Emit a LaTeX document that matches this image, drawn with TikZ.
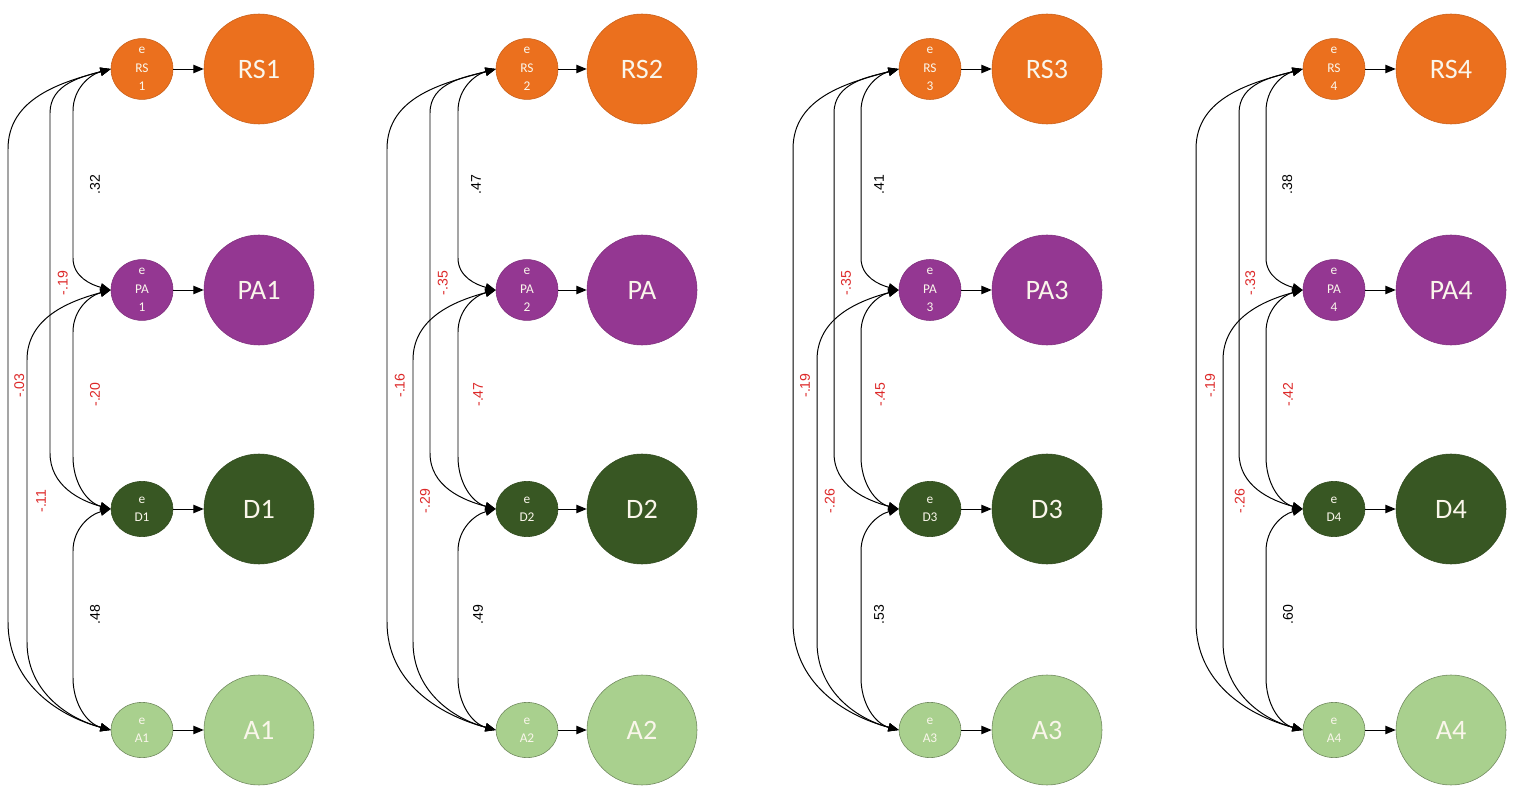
\documentclass[tikz,border=0pt]{standalone}
\usepackage{fontspec}
\setmainfont{Carlito}
\newfontfamily\numfont{Liberation Sans}
\usepackage{tikz}
\usetikzlibrary{arrows.meta,shapes.geometric,calc}
\definecolor{rsorange}{RGB}{235,112,30}
\definecolor{papurple}{RGB}{148,55,146}
\definecolor{ddgreen}{RGB}{56,87,35}
\definecolor{algreen}{RGB}{169,208,142}
\definecolor{covred}{RGB}{220,40,40}
\definecolor{ntext}{RGB}{250,246,235}

\begin{document}
\begin{tikzpicture}[
    >={Triangle[length=0.26cm,width=0.21cm]},
    errnode/.style={ellipse, minimum width=1.55cm, minimum height=1.38cm, inner sep=0pt,
                    align=center, text=ntext, font=\fontsize{9.5}{13}\selectfont},
    latnode/.style={circle, minimum size=2.75cm, inner sep=0pt, text=ntext,
                    font=\fontsize{20}{22}\selectfont},
    rs/.style={fill=rsorange, draw=rsorange!85!black, line width=0.4pt},
    pa/.style={fill=papurple, draw=papurple!85!black, line width=0.4pt},
    dd/.style={fill=ddgreen, draw=ddgreen!85!black, line width=0.4pt},
    al/.style={fill=algreen, draw=algreen!65!black, line width=0.4pt},
    load/.style={->, line width=0.7pt},
    cov/.style={<->, line width=0.7pt},
    lbl/.style={rotate=90, font=\numfont\fontsize{10}{11}\selectfont},
    neg/.style={lbl, text=covred}]
  \useasboundingbox (0,0) rectangle (38.1,19.675);

  % Panel 1
  \node[errnode, rs] (eRS1) at (3.55,17.95) {e\\RS\\1};
  \node[errnode, pa] (ePA1) at (3.55,12.425) {e\\PA\\1};
  \node[errnode, dd] (eD1) at (3.55,6.95) {e\\D1};
  \node[errnode, al] (eA1) at (3.55,1.425) {e\\A1};
  \node[latnode, rs] (RS1) at (6.475,17.95) {RS1};
  \node[latnode, pa] (PA1) at (6.475,12.425) {PA1};
  \node[latnode, dd] (D1) at (6.475,6.95) {D1};
  \node[latnode, al] (A1) at (6.475,1.425) {A1};
  \draw[load] (eRS1) -- (RS1);
  \draw[load] (ePA1) -- (PA1);
  \draw[load] (eD1) -- (D1);
  \draw[load] (eA1) -- (A1);
  \draw[cov] (eRS1.west) to[out=195,in=90] (1.825,16.9) -- (1.825,13.225)
    node[midway, xshift=0.55cm, lbl] {.32} to[out=-90,in=165] (ePA1.west);
  \draw[cov] (ePA1.west) to[out=195,in=90] (1.825,11.375) -- (1.825,8.25)
    node[midway, xshift=0.55cm, neg] {-.20} to[out=-90,in=165] (eD1.west);
  \draw[cov] (eD1.west) to[out=195,in=90] (1.825,5.9) -- (1.825,2.725)
    node[midway, xshift=0.55cm, lbl] {.48} to[out=-90,in=165] (eA1.west);
  \draw[cov] (eRS1.west) to[out=195,in=90] (1.25,16.85) -- (1.25,8.35)
    node[midway, xshift=0.32cm, neg] {-.19} to[out=-90,in=165] (eD1.west);
  \draw[cov] (ePA1.west) to[out=195,in=90] (0.675,10.675) -- (0.675,3.625)
    node[midway, xshift=0.35cm, neg] {-.11} to[out=-90,in=165] (eA1.west);
  \draw[cov] (eRS1.west) to[out=195,in=90] (0.2,15.95) -- (0.2,4.125)
    node[midway, xshift=0.28cm, neg] {-.03} to[out=-90,in=165] (eA1.west);

  % Panel 2
  \node[errnode, rs] (eRS2) at (13.175,17.95) {e\\RS\\2};
  \node[errnode, pa] (ePA2) at (13.175,12.425) {e\\PA\\2};
  \node[errnode, dd] (eD2) at (13.175,6.95) {e\\D2};
  \node[errnode, al] (eA2) at (13.175,1.425) {e\\A2};
  \node[latnode, rs] (RS2) at (16.05,17.95) {RS2};
  \node[latnode, pa] (PA2) at (16.05,12.425) {PA};
  \node[latnode, dd] (D2) at (16.05,6.95) {D2};
  \node[latnode, al] (A2) at (16.05,1.425) {A2};
  \draw[load] (eRS2) -- (RS2);
  \draw[load] (ePA2) -- (PA2);
  \draw[load] (eD2) -- (D2);
  \draw[load] (eA2) -- (A2);
  \draw[cov] (eRS2.west) to[out=195,in=90] (11.45,16.9) -- (11.45,13.225)
    node[midway, xshift=0.45cm, lbl] {.47} to[out=-90,in=165] (ePA2.west);
  \draw[cov] (ePA2.west) to[out=195,in=90] (11.45,11.375) -- (11.45,8.25)
    node[midway, xshift=0.5cm, neg] {-.47} to[out=-90,in=165] (eD2.west);
  \draw[cov] (eD2.west) to[out=195,in=90] (11.45,5.9) -- (11.45,2.725)
    node[midway, xshift=0.5cm, lbl] {.49} to[out=-90,in=165] (eA2.west);
  \draw[cov] (eRS2.west) to[out=195,in=90] (10.75,16.85) -- (10.75,8.35)
    node[midway, xshift=0.32cm, neg] {-.35} to[out=-90,in=165] (eD2.west);
  \draw[cov] (ePA2.west) to[out=195,in=90] (10.325,10.675) -- (10.325,3.625)
    node[midway, xshift=0.3cm, neg] {-.29} to[out=-90,in=165] (eA2.west);
  \draw[cov] (eRS2.west) to[out=195,in=90] (9.675,15.95) -- (9.675,4.125)
    node[midway, xshift=0.32cm, neg] {-.16} to[out=-90,in=165] (eA2.west);

  % Panel 3
  \node[errnode, rs] (eRS3) at (23.25,17.95) {e\\RS\\3};
  \node[errnode, pa] (ePA3) at (23.25,12.425) {e\\PA\\3};
  \node[errnode, dd] (eD3) at (23.25,6.95) {e\\D3};
  \node[errnode, al] (eA3) at (23.25,1.425) {e\\A3};
  \node[latnode, rs] (RS3) at (26.175,17.95) {RS3};
  \node[latnode, pa] (PA3) at (26.175,12.425) {PA3};
  \node[latnode, dd] (D3) at (26.175,6.95) {D3};
  \node[latnode, al] (A3) at (26.175,1.425) {A3};
  \draw[load] (eRS3) -- (RS3);
  \draw[load] (ePA3) -- (PA3);
  \draw[load] (eD3) -- (D3);
  \draw[load] (eA3) -- (A3);
  \draw[cov] (eRS3.west) to[out=195,in=90] (21.525,16.9) -- (21.525,13.225)
    node[midway, xshift=0.45cm, lbl] {.41} to[out=-90,in=165] (ePA3.west);
  \draw[cov] (ePA3.west) to[out=195,in=90] (21.525,11.375) -- (21.525,8.25)
    node[midway, xshift=0.48cm, neg] {-.45} to[out=-90,in=165] (eD3.west);
  \draw[cov] (eD3.west) to[out=195,in=90] (21.525,5.9) -- (21.525,2.725)
    node[midway, xshift=0.45cm, lbl] {.53} to[out=-90,in=165] (eA3.west);
  \draw[cov] (eRS3.west) to[out=195,in=90] (20.85,16.85) -- (20.85,8.35)
    node[midway, xshift=0.3cm, neg] {-.35} to[out=-90,in=165] (eD3.west);
  \draw[cov] (ePA3.west) to[out=195,in=90] (20.425,10.675) -- (20.425,3.625)
    node[midway, xshift=0.32cm, neg] {-.26} to[out=-90,in=165] (eA3.west);
  \draw[cov] (eRS3.west) to[out=195,in=90] (19.825,15.95) -- (19.825,4.125)
    node[midway, xshift=0.3cm, neg] {-.19} to[out=-90,in=165] (eA3.west);

  % Panel 4
  \node[errnode, rs] (eRS4) at (33.35,17.95) {e\\RS\\4};
  \node[errnode, pa] (ePA4) at (33.35,12.425) {e\\PA\\4};
  \node[errnode, dd] (eD4) at (33.35,6.95) {e\\D4};
  \node[errnode, al] (eA4) at (33.35,1.425) {e\\A4};
  \node[latnode, rs] (RS4) at (36.275,17.95) {RS4};
  \node[latnode, pa] (PA4) at (36.275,12.425) {PA4};
  \node[latnode, dd] (D4) at (36.275,6.95) {D4};
  \node[latnode, al] (A4) at (36.275,1.425) {A4};
  \draw[load] (eRS4) -- (RS4);
  \draw[load] (ePA4) -- (PA4);
  \draw[load] (eD4) -- (D4);
  \draw[load] (eA4) -- (A4);
  \draw[cov] (eRS4.west) to[out=195,in=90] (31.65,16.9) -- (31.65,13.225)
    node[midway, xshift=0.53cm, lbl] {.38} to[out=-90,in=165] (ePA4.west);
  \draw[cov] (ePA4.west) to[out=195,in=90] (31.65,11.375) -- (31.65,8.25)
    node[midway, xshift=0.55cm, neg] {-.42} to[out=-90,in=165] (eD4.west);
  \draw[cov] (eD4.west) to[out=195,in=90] (31.65,5.9) -- (31.65,2.725)
    node[midway, xshift=0.55cm, lbl] {.60} to[out=-90,in=165] (eA4.west);
  \draw[cov] (eRS4.west) to[out=195,in=90] (30.975,16.85) -- (30.975,8.35)
    node[midway, xshift=0.28cm, neg] {-.33} to[out=-90,in=165] (eD4.west);
  \draw[cov] (ePA4.west) to[out=195,in=90] (30.575,10.675) -- (30.575,3.625)
    node[midway, xshift=0.42cm, neg] {-.26} to[out=-90,in=165] (eA4.west);
  \draw[cov] (eRS4.west) to[out=195,in=90] (29.9,15.95) -- (29.9,4.125)
    node[midway, xshift=0.35cm, neg] {-.19} to[out=-90,in=165] (eA4.west);
\end{tikzpicture}
\end{document}
